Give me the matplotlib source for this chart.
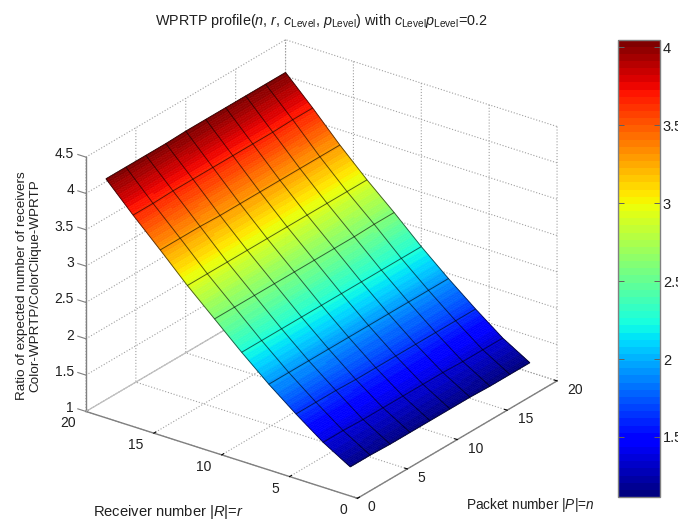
import numpy as np
import matplotlib
matplotlib.use('Agg')
import matplotlib.pyplot as plt
from mpl_toolkits.mplot3d import Axes3D, proj3d

plt.rcParams['font.family'] = ['Liberation Sans', 'DejaVu Sans']
plt.rcParams['mathtext.fontset'] = 'custom'
plt.rcParams['mathtext.rm'] = 'Liberation Sans'
plt.rcParams['mathtext.it'] = 'Liberation Sans:italic'
plt.rcParams['grid.linestyle'] = ':'
plt.rcParams['grid.linewidth'] = 0.8
plt.rcParams['grid.color'] = '#a0a0a0'

# packet number n, receiver number r
packets = [2, 4, 6, 8, 10, 12, 14, 16, 18, 20]
receivers = [2, 4, 6, 8, 10, 12, 14, 16, 18, 20]

# ratio, one row per receiver value
ratio_r2 = [1.15, 1.15, 1.14, 1.14, 1.14, 1.14, 1.14, 1.13, 1.13, 1.13]
ratio_r4 = [1.37, 1.37, 1.36, 1.36, 1.36, 1.36, 1.36, 1.35, 1.35, 1.35]
ratio_r6 = [1.64, 1.64, 1.64, 1.63, 1.63, 1.63, 1.63, 1.63, 1.63, 1.63]
ratio_r8 = [1.93, 1.93, 1.93, 1.93, 1.93, 1.93, 1.93, 1.93, 1.93, 1.93]
ratio_r10 = [2.25, 2.25, 2.25, 2.25, 2.25, 2.25, 2.25, 2.25, 2.25, 2.25]
ratio_r12 = [2.59, 2.59, 2.59, 2.59, 2.59, 2.59, 2.59, 2.59, 2.60, 2.60]
ratio_r14 = [2.93, 2.93, 2.93, 2.93, 2.93, 2.93, 2.93, 2.93, 2.93, 2.93]
ratio_r16 = [3.30, 3.30, 3.30, 3.29, 3.29, 3.29, 3.29, 3.29, 3.29, 3.29]
ratio_r18 = [3.66, 3.66, 3.67, 3.67, 3.67, 3.67, 3.67, 3.67, 3.68, 3.68]
ratio_r20 = [4.04, 4.04, 4.04, 4.04, 4.05, 4.05, 4.05, 4.05, 4.05, 4.05]

x_ticks = [0, 5, 10, 15, 20]
y_ticks = [0, 5, 10, 15, 20]
z_ticks = [1, 1.5, 2, 2.5, 3, 3.5, 4, 4.5]
z_ticklabels = ['1', '1.5', '2', '2.5', '3', '3.5', '4', '4.5']
cbar_ticks = [1.5, 2, 2.5, 3, 3.5, 4]
cbar_ticklabels = ['1.5', '2', '2.5', '3', '3.5', '4']
c_min = 1.115
c_max = 4.05

ratio = np.array([ratio_r2, ratio_r4, ratio_r6, ratio_r8, ratio_r10,
                  ratio_r12, ratio_r14, ratio_r16, ratio_r18, ratio_r20])

W, H = 678, 521
TEXT = '#202020'
fig = plt.figure(figsize=(W / 100, H / 100), dpi=100, facecolor='white')

S = 540
ax = fig.add_axes([(321.5 - 0.5135 * S) / W, (252 - 0.5135 * S) / H, S / W, S / H],
                  projection='3d', proj_type='ortho', facecolor='none')
ax.view_init(elev=25.7, azim=-143.6)
ax.set_box_aspect((336, 337, 282), zoom=0.9954)
ax.set_xlim(0, 20)
ax.set_ylim(0, 20)
ax.set_zlim(1, 4.5)
ax.computed_zorder = False

jet64 = plt.get_cmap('jet', 64)

# same look as matlab interp shading: facets are split finer only for the colour bands
n_fine = np.linspace(packets[0], packets[-1], 37)
r_fine = np.linspace(receivers[0], receivers[-1], 181)
by_r = np.array([np.interp(r_fine, receivers, ratio[:, j]) for j in range(len(packets))]).T
fine = np.array([np.interp(n_fine, packets, row) for row in by_r])
XF, YF = np.meshgrid(n_fine, r_fine)
surf = ax.plot_surface(XF, YF, fine, cmap=jet64, vmin=c_min, vmax=c_max, rstride=1, cstride=1,
                       linewidth=0.4, antialiased=True, shade=False, zorder=1)
surf.set_edgecolor('face')

X, Y = np.meshgrid(packets, receivers)
ax.plot_wireframe(X, Y, ratio, rstride=1, cstride=1, color='black', linewidth=0.7,
                  alpha=0.6, zorder=2)

# floor edge behind the surface is solid in the original
ax.plot3D([0, 20], [20, 20], [1, 1], color='#c0c0c0', linewidth=0.8, zorder=0)

ax.set_xticks(x_ticks)
ax.set_yticks(y_ticks)
ax.set_zticks(z_ticks)
ax.set_xticklabels([])
ax.set_yticklabels([])
ax.set_zticklabels([])
for axis in (ax.xaxis, ax.yaxis, ax.zaxis):
    axis.set_pane_color((1, 1, 1, 0))
    axis.pane.set_edgecolor('#a8a8a8')
    axis.pane.set_linewidth(0.8)
    axis.pane.set_linestyle(':')
    axis.line.set_color('#808080')
    axis.line.set_linewidth(1.0)
    axis._axinfo['tick']['color'] = '#808080'
    axis._axinfo['tick']['linewidth'] = {True: 0.8, False: 0.5}
    axis._axinfo['tick']['inward_factor'] = 0.0
    axis._axinfo['tick']['outward_factor'] = 0.12
ax.zaxis._axinfo['tick']['outward_factor'] = 0.0

# z ticks point along the receiver axis here
for z in z_ticks:
    ax.plot3D([0, 0], [20, 20.6], [z, z], color='#808080', linewidth=0.8, zorder=0)


def tick_text(x, y, z, s, dx, dy, ha):
    px, py, _ = proj3d.proj_transform(x, y, z, ax.get_proj())
    ax.annotate(s, xy=(px, py), xycoords='data', xytext=(dx, dy), textcoords='offset pixels',
                ha=ha, va='center', fontsize=10, color=TEXT, annotation_clip=False)


for n in x_ticks:
    tick_text(n, 0, 1, str(n), 10.5, -9, 'left')
for r in y_ticks:
    tick_text(0, r, 1, str(r), -10, -12, 'right')
for z, s in zip(z_ticks, z_ticklabels):
    tick_text(0, 20, z, s, -12, 3, 'right')

fig.text(321.5 / W, (H - 21) / H, r'WPRTP profile($n$, $r$, $c_{\mathrm{Level}}$, $p_{\mathrm{Level}}$) '
         r'with $c_{\mathrm{Level}}p_{\mathrm{Level}}$=0.2',
         ha='center', va='center', fontsize=10.4, color=TEXT)
fig.text(168 / W, (H - 512) / H, r'Receiver number |$R$|=$r$', ha='center', va='center',
         fontsize=10.6, color=TEXT)
fig.text(530 / W, (H - 505) / H, r'Packet number |$P$|=$n$', ha='center', va='center',
         fontsize=9.8, color=TEXT)
fig.text(28.5 / W, (H - 286) / H, 'Ratio of expected number of receivers\nColor-WPRTP/ColorClique-WPRTP',
         rotation=90, ha='center', va='center', multialignment='center', fontsize=9.7,
         color=TEXT, linespacing=1.12)

cax = fig.add_axes([617.5 / W, (H - 497) / H, 42.5 / W, 457.5 / H])
sm = plt.cm.ScalarMappable(norm=plt.Normalize(c_min, c_max), cmap=jet64)
cb = fig.colorbar(sm, cax=cax, ticks=cbar_ticks)
cb.set_ticklabels(cbar_ticklabels)
cb.outline.set_edgecolor('#808080')
cb.outline.set_linewidth(1.0)
cax.tick_params(axis='y', direction='in', left=True, right=True, length=4, width=0.7,
                color='#606060', labelsize=10.5, labelcolor=TEXT, pad=2)

fig.savefig('out.png', dpi=100)
